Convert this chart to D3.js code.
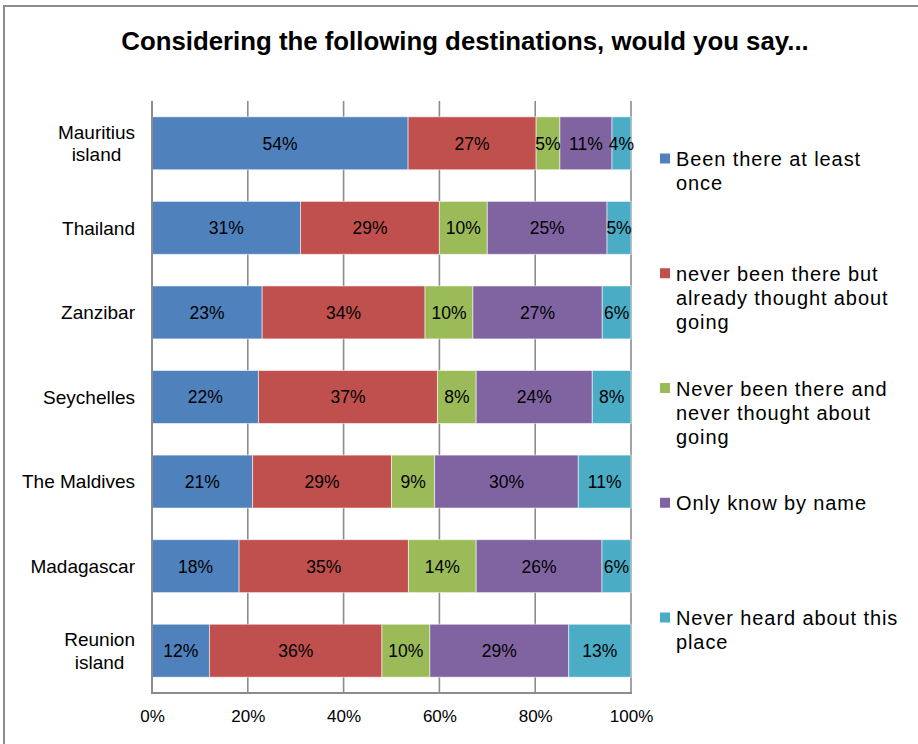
<!DOCTYPE html>
<html>
<head>
<meta charset="utf-8">
<script src="https://cdn.jsdelivr.net/npm/d3@7"></script>
<style>
  html, body { margin: 0; padding: 0; background: #fff; }
  svg { display: block; font-family: "Liberation Sans", Arial, sans-serif; }
</style>
</head>
<body>
<svg id="chart" width="918" height="744"></svg>
<script>
// Survey: attitude towards each destination (percent of respondents)
const categories = ["Mauritius island", "Thailand", "Zanzibar", "Seychelles", "The Maldives", "Madagascar", "Reunion island"];
const seriesNames = [
  "Been there at least once",
  "never been there but already thought about going",
  "Never been there and never thought about going",
  "Only know by name",
  "Never heard about this place"
];
const beenThere     = [54, 31, 23, 22, 21, 18, 12];
const thoughtAbout  = [27, 29, 34, 37, 29, 35, 36];
const neverThought  = [5, 10, 10, 8, 9, 14, 10];
const knowByName    = [11, 25, 27, 24, 30, 26, 29];
const neverHeard    = [4, 5, 6, 8, 11, 6, 13];
const tickValues    = [0, 0.2, 0.4, 0.6, 0.8, 1];
const title = "Considering the following destinations, would you say...";

const colors = ["#4F81BD", "#C0504D", "#9BBB59", "#8064A2", "#4BACC6"];
const seriesValues = [beenThere, thoughtAbout, neverThought, knowByName, neverHeard];
const keys = seriesNames;

const rows = categories.map((c, i) => {
  const r = { category: c };
  keys.forEach((k, j) => { r[k] = seriesValues[j][i]; });
  return r;
});

const svg = d3.select("#chart");
const W = 918, H = 744;
const plot = { left: 152, right: 631, top: 101, bottom: 693 };

// outer chart frame
svg.append("rect")
  .attr("x", 4).attr("y", 6)
  .attr("width", W + 10).attr("height", H + 10)
  .attr("fill", "#fff").attr("stroke", "#8c8c8c").attr("stroke-width", 2);

// title
svg.append("text")
  .attr("x", 465).attr("y", 50)
  .attr("text-anchor", "middle")
  .attr("font-size", 25.8).attr("font-weight", "bold").attr("fill", "#000")
  .text(title);

const x = d3.scaleLinear().domain([0, 1]).range([plot.left, plot.right]);
const y = d3.scaleBand().domain(categories).range([plot.top, plot.bottom])
  .paddingInner(0.374).paddingOuter(0.187);

// vertical gridlines
svg.append("g").selectAll("line").data(tickValues.slice(1)).join("line")
  .attr("x1", d => x(d)).attr("x2", d => x(d))
  .attr("y1", plot.top).attr("y2", plot.bottom)
  .attr("stroke", "#8c8c8c").attr("stroke-width", 1.6);

const stack = d3.stack().keys(keys).offset(d3.stackOffsetExpand);
const stacked = stack(rows);

const layers = svg.append("g").selectAll("g").data(stacked).join("g")
  .attr("fill", (d, i) => colors[i]);

layers.selectAll("rect").data(d => d).join("rect")
  .attr("x", d => x(d[0]))
  .attr("width", d => x(d[1]) - x(d[0]))
  .attr("y", d => y(d.data.category))
  .attr("height", y.bandwidth())
  .attr("stroke", "rgba(255,255,255,0.55)")
  .attr("stroke-width", 1);

// value labels
stacked.forEach(layer => {
  svg.append("g").selectAll("text").data(layer).join("text")
    .attr("x", d => (x(d[0]) + x(d[1])) / 2)
    .attr("y", d => y(d.data.category) + y.bandwidth() / 2 + 6.4)
    .attr("text-anchor", "middle")
    .attr("font-size", 17.5).attr("fill", "#000")
    .text(d => d.data[layer.key] + "%");
});

// axes lines
const axisColor = "#8c8c8c";
svg.append("line")
  .attr("x1", plot.left).attr("x2", plot.left)
  .attr("y1", plot.top).attr("y2", plot.bottom + 1)
  .attr("stroke", axisColor).attr("stroke-width", 2);
svg.append("line")
  .attr("x1", plot.left - 1).attr("x2", plot.right + 1)
  .attr("y1", plot.bottom).attr("y2", plot.bottom)
  .attr("stroke", axisColor).attr("stroke-width", 2);

// x tick labels
const xAxis = d3.axisBottom(x).tickValues(tickValues).tickSize(0).tickPadding(0)
  .tickFormat(d3.format(".0%"));
const gx = svg.append("g").attr("transform", `translate(0, ${plot.bottom})`).call(xAxis);
gx.select(".domain").remove();
gx.selectAll("text")
  .attr("font-family", "Liberation Sans, Arial, sans-serif")
  .attr("font-size", 17).attr("fill", "#000")
  .attr("dy", null).attr("y", 29);

// text wrapping helper using measured widths
function wrapLines(text, maxWidth, size, spacing) {
  const probe = svg.append("text").attr("font-size", size)
    .attr("letter-spacing", spacing || 0).attr("visibility", "hidden");
  const words = text.split(" ");
  const lines = [];
  let cur = "";
  words.forEach(w => {
    const trial = cur ? cur + " " + w : w;
    probe.text(trial);
    if (cur && probe.node().getComputedTextLength() > maxWidth) {
      lines.push(cur);
      cur = w;
    } else cur = trial;
  });
  if (cur) lines.push(cur);
  const widths = lines.map(l => { probe.text(l); return probe.node().getComputedTextLength(); });
  probe.remove();
  return { lines, widths };
}

// category labels: block right-aligned, lines centered within the block
const catSize = 19, catLine = 22.4;
categories.forEach(c => {
  const { lines, widths } = wrapLines(c, 120, catSize);
  const bw = d3.max(widths);
  const cx = 135 - bw / 2;
  const cy = y(c) + y.bandwidth() / 2;
  const first = cy + 6.8 - (lines.length - 1) * catLine / 2;
  const t = svg.append("text").attr("font-size", catSize).attr("fill", "#000")
    .attr("text-anchor", "middle");
  lines.forEach((l, i) => {
    t.append("tspan").attr("x", cx).attr("y", first + i * catLine).text(l);
  });
});

// legend
const legStart = 166, legStep = 114.75, legLine = 24.3;
seriesNames.forEach((name, i) => {
  const base = legStart + i * legStep;
  svg.append("rect")
    .attr("x", 660).attr("y", base - 12.5)
    .attr("width", 10).attr("height", 10)
    .attr("fill", colors[i]);
  const { lines } = wrapLines(name, 226, 20, 0.9);
  const t = svg.append("text").attr("font-size", 20).attr("letter-spacing", 0.9)
    .attr("fill", "#000");
  lines.forEach((l, j) => {
    t.append("tspan").attr("x", 676).attr("y", base + j * legLine).text(l);
  });
});
</script>
</body>
</html>
